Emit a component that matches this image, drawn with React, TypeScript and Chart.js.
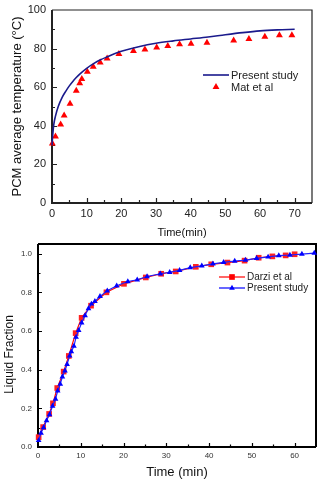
import React, { useEffect, useRef } from "react";
import { Chart, registerables } from "chart.js";
Chart.register(...registerables);

// ---------- Top chart data: PCM average temperature ----------
const presentTime = [0, 0.2, 0.5, 1, 1.8, 3, 4, 5, 6, 7, 8, 10, 12, 14, 16, 18, 20, 25, 30, 35, 40, 45, 50, 55, 60, 65, 70];
const presentTemp = [30, 35, 40.5, 45, 50, 55, 58, 60.7, 63, 65, 66.8, 69.8, 72.2, 74.2, 75.8, 77.3, 78.6, 81, 82.8, 84, 85, 86, 87.2, 88.3, 89.2, 89.7, 90];
const matTime = [0.1, 1.0, 2.5, 3.5, 5.2, 7.0, 8.0, 8.6, 10.2, 11.9, 13.9, 15.9, 19.3, 23.5, 26.8, 30.2, 33.4, 36.8, 40.1, 44.7, 52.4, 56.8, 61.4, 65.6, 69.2];
const matTemp = [30.8, 34.5, 40.7, 45.4, 51.4, 58.1, 62, 64.3, 68, 70.6, 72.8, 74.9, 77.2, 78.7, 79.5, 80.6, 81.4, 82.3, 82.5, 83, 84.2, 85, 86.2, 86.9, 86.9];

// ---------- Bottom chart data: Liquid fraction ----------
const darziTime = [0.15, 1.2, 2.6, 3.5, 4.5, 6.0, 7.2, 8.8, 10.2, 12.4, 16.0, 20.1, 25.2, 28.8, 32.2, 36.9, 40.5, 44.3, 48.3, 51.6, 54.8, 57.9, 60.0];
const darziFrac = [0.051, 0.103, 0.171, 0.226, 0.305, 0.39, 0.471, 0.589, 0.668, 0.731, 0.8, 0.844, 0.877, 0.896, 0.908, 0.932, 0.945, 0.954, 0.964, 0.979, 0.986, 0.991, 0.997];
const studyTime = [0.15, 0.7, 1.3, 2.0, 2.7, 3.4, 4.1, 4.6, 5.2, 5.7, 6.3, 6.8, 7.4, 7.8, 8.4, 8.9, 9.5, 10.2, 11.0, 11.8, 12.5, 13.3, 14.5, 16.2, 18.4, 21.0, 23.2, 25.5, 28.6, 30.8, 33.1, 35.6, 38.3, 40.9, 43.4, 46.0, 48.5, 51.1, 53.8, 56.3, 58.9, 61.7, 64.6];
const studyFrac = [0.034, 0.072, 0.1, 0.137, 0.168, 0.212, 0.248, 0.291, 0.325, 0.363, 0.394, 0.428, 0.471, 0.493, 0.522, 0.568, 0.603, 0.642, 0.68, 0.716, 0.74, 0.753, 0.779, 0.808, 0.834, 0.856, 0.865, 0.882, 0.896, 0.904, 0.914, 0.928, 0.937, 0.947, 0.955, 0.962, 0.967, 0.976, 0.983, 0.99, 0.993, 0.998, 1.003];

const FONT = "'Liberation Sans', Arial, sans-serif";

const toXY = (xs: number[], ys: number[]) => xs.map((x, i) => ({ x, y: ys[i] }));

function drawMarker(ctx: CanvasRenderingContext2D, style: string, x: number, y: number, r: number, color: string) {
  ctx.save();
  ctx.fillStyle = color;
  ctx.beginPath();
  if (style === "triangle") {
    let rad = 0;
    ctx.moveTo(x + Math.sin(rad) * r, y - Math.cos(rad) * r);
    rad += (2 * Math.PI) / 3;
    ctx.lineTo(x + Math.sin(rad) * r, y - Math.cos(rad) * r);
    rad += (2 * Math.PI) / 3;
    ctx.lineTo(x + Math.sin(rad) * r, y - Math.cos(rad) * r);
    ctx.closePath();
  } else {
    const s = r / Math.SQRT2;
    ctx.rect(x - s, y - s, 2 * s, 2 * s);
  }
  ctx.fill();
  ctx.restore();
}

function framePlugin(cfg: any) {
  return {
    id: "frameTicks",
    beforeDatasetsDraw(chart: any) {
      const { ctx, chartArea: a, scales } = chart;
      ctx.save();
      ctx.strokeStyle = cfg.color;
      ctx.lineWidth = cfg.borderWidth;
      ctx.beginPath();
      ctx.moveTo(a.left, a.top);
      ctx.lineTo(a.right, a.top);
      ctx.lineTo(a.right, a.bottom);
      ctx.stroke();
      ctx.lineWidth = cfg.axisWidth;
      ctx.beginPath();
      ctx.moveTo(a.left, a.top);
      ctx.lineTo(a.left, a.bottom);
      ctx.lineTo(a.right, a.bottom);
      ctx.stroke();
      ctx.lineWidth = 1.2;
      const xs = scales.x;
      const ys = scales.y;
      ctx.beginPath();
      for (let k = 1; ; k++) {
        const v = xs.min + (k * cfg.xStep) / 2;
        if (v >= xs.max - 1e-9) break;
        const px = Math.round(xs.getPixelForValue(v)) + 0.5;
        const len = k % 2 === 0 ? cfg.majorLen : cfg.minorLen;
        ctx.moveTo(px, a.bottom);
        ctx.lineTo(px, a.bottom - len);
      }
      for (let k = 1; ; k++) {
        const v = ys.min + (k * cfg.yStep) / 2;
        if (v >= ys.max - 1e-9) break;
        const py = Math.round(ys.getPixelForValue(v)) + 0.5;
        const len = k % 2 === 0 ? cfg.majorLen : cfg.minorLen;
        ctx.moveTo(a.left, py);
        ctx.lineTo(a.left + len, py);
      }
      ctx.stroke();
      ctx.restore();
    },
    afterDraw(chart: any) {
      const { ctx, chartArea: a } = chart;
      ctx.save();
      // axis titles
      ctx.fillStyle = "#111";
      ctx.textAlign = "center";
      ctx.textBaseline = "middle";
      ctx.font = `${cfg.xTitleSize}px ${FONT}`;
      ctx.fillText(cfg.xTitle, (a.left + a.right) / 2 + cfg.xTitleDx, cfg.xTitleY);
      ctx.save();
      ctx.translate(cfg.yTitleX, (a.top + a.bottom) / 2 + cfg.yTitleDy);
      ctx.rotate(-Math.PI / 2);
      ctx.font = `${cfg.yTitleSize}px ${FONT}`;
      ctx.fillText(cfg.yTitle, 0, 0);
      ctx.restore();
      // legend
      ctx.font = `${cfg.legendSize}px ${FONT}`;
      ctx.textAlign = "left";
      cfg.legend.forEach((it: any, i: number) => {
        const y = cfg.legendY + i * cfg.legendGap;
        if (it.line) {
          ctx.strokeStyle = it.color;
          ctx.lineWidth = it.lineWidth;
          ctx.beginPath();
          ctx.moveTo(cfg.legendX0, y);
          ctx.lineTo(cfg.legendX1, y);
          ctx.stroke();
        }
        if (it.marker) {
          drawMarker(ctx, it.marker, (cfg.legendX0 + cfg.legendX1) / 2, y, it.radius, it.color);
        }
        ctx.fillStyle = "#222";
        ctx.fillText(it.label, cfg.legendX1 + 2, y + 0.5);
      });
      ctx.restore();
    },
  };
}

const fixScale = (w: number | null, h: number | null) => (scale: any) => {
  if (w !== null) scale.width = w;
  if (h !== null) scale.height = h;
  scale.paddingTop = 0;
  scale.paddingBottom = 0;
  scale.paddingLeft = 0;
  scale.paddingRight = 0;
};

function topConfig(): any {
  return {
    type: "scatter",
    data: {
      datasets: [
        {
          label: "Present study",
          data: toXY(presentTime, presentTemp),
          showLine: true,
          borderColor: "#1a1a8c",
          borderWidth: 1.6,
          pointRadius: 0,
          cubicInterpolationMode: "monotone",
          clip: false,
        },
        {
          label: "Mat et al",
          data: toXY(matTime, matTemp),
          showLine: false,
          pointStyle: "triangle",
          pointRadius: 4,
          pointBackgroundColor: "#ff0000",
          pointBorderWidth: 0,
          borderColor: "#ff0000",
          clip: false,
        },
      ],
    },
    options: {
      animation: false,
      responsive: false,
      devicePixelRatio: 1,
      layout: { padding: { top: 10, right: 8, left: 0, bottom: 0 } },
      plugins: { legend: { display: false }, tooltip: { enabled: false } },
      scales: {
        x: {
          type: "linear",
          min: 0,
          max: 75,
          grid: { display: false, drawTicks: false },
          border: { display: false },
          ticks: { stepSize: 10, includeBounds: false, padding: 4, color: "#222", font: { family: FONT, size: 11 } },
          afterFit: fixScale(null, 37),
        },
        y: {
          type: "linear",
          min: 0,
          max: 100,
          grid: { display: false, drawTicks: false },
          border: { display: false },
          ticks: { stepSize: 20, includeBounds: false, padding: 6, color: "#222", font: { family: FONT, size: 11 } },
          afterFit: fixScale(52, null),
        },
      },
    },
    plugins: [
      framePlugin({
        color: "#222",
        borderWidth: 1.2,
        axisWidth: 2,
        majorLen: 5,
        minorLen: 3,
        xStep: 10,
        yStep: 20,
        xTitle: "Time(min)",
        xTitleSize: 11,
        xTitleY: 233,
        xTitleDx: 0,
        yTitle: "PCM average temperature (°C)",
        yTitleSize: 13,
        yTitleX: 17,
        yTitleDy: 0,
        legendSize: 11,
        legendX0: 203,
        legendX1: 229,
        legendY: 75,
        legendGap: 12,
        legend: [
          { label: "Present study", line: true, color: "#1a1a8c", lineWidth: 1.6 },
          { label: "Mat et al", marker: "triangle", color: "#ff0000", radius: 4 },
        ],
      }),
    ],
  };
}

function bottomConfig(): any {
  return {
    type: "scatter",
    data: {
      datasets: [
        {
          label: "Present study",
          data: toXY(studyTime, studyFrac),
          showLine: true,
          borderColor: "#2020ff",
          borderWidth: 1.2,
          pointStyle: "triangle",
          pointRadius: 3.3,
          pointBackgroundColor: "#0000ff",
          pointBorderWidth: 0,
          clip: false,
          order: 0,
        },
        {
          label: "Darzi et al",
          data: toXY(darziTime, darziFrac),
          showLine: true,
          borderColor: "#ff0000",
          borderWidth: 1.2,
          pointStyle: "rect",
          pointRadius: 4,
          pointBackgroundColor: "#ff2020",
          pointBorderWidth: 0,
          clip: false,
          order: 1,
        },
      ],
    },
    options: {
      animation: false,
      responsive: false,
      devicePixelRatio: 1,
      layout: { padding: { top: 2, right: 4, left: 0, bottom: 0 } },
      plugins: { legend: { display: false }, tooltip: { enabled: false } },
      scales: {
        x: {
          type: "linear",
          min: 0,
          max: 65,
          grid: { display: false, drawTicks: false },
          border: { display: false },
          ticks: { stepSize: 10, includeBounds: false, padding: 4, color: "#333", font: { family: FONT, size: 8 } },
          afterFit: fixScale(null, 33),
        },
        y: {
          type: "linear",
          min: 0,
          max: 1.05,
          grid: { display: false, drawTicks: false },
          border: { display: false },
          ticks: {
            stepSize: 0.2,
            includeBounds: false,
            padding: 6,
            color: "#333",
            font: { family: FONT, size: 8 },
            callback: (v: any) => Number(v).toFixed(1),
          },
          afterFit: fixScale(38, null),
        },
      },
    },
    plugins: [
      framePlugin({
        color: "#000",
        borderWidth: 2,
        axisWidth: 2,
        majorLen: 4,
        minorLen: 2.5,
        xStep: 10,
        yStep: 0.2,
        xTitle: "Time (min)",
        xTitleSize: 13,
        xTitleY: 232,
        xTitleDx: 0,
        yTitle: "Liquid Fraction",
        yTitleSize: 12,
        yTitleX: 10,
        yTitleDy: 9,
        legendSize: 10,
        legendX0: 219,
        legendX1: 245,
        legendY: 37,
        legendGap: 11,
        legend: [
          { label: "Darzi et al", line: true, marker: "rect", color: "#ff0000", lineWidth: 1.2, radius: 4 },
          { label: "Present study", line: true, marker: "triangle", color: "#0000ff", lineWidth: 1.2, radius: 3.3 },
        ],
      }),
    ],
  };
}

export default function App() {
  const topRef = useRef<HTMLCanvasElement>(null);
  const botRef = useRef<HTMLCanvasElement>(null);
  useEffect(() => {
    const c1 = new Chart(topRef.current as HTMLCanvasElement, topConfig());
    const c2 = new Chart(botRef.current as HTMLCanvasElement, bottomConfig());
    return () => {
      c1.destroy();
      c2.destroy();
    };
  }, []);
  return (
    <div style={{ position: "fixed", left: 0, top: 0, width: 320, height: 480, background: "#fff" }}>
      <canvas ref={topRef} width={320} height={240} style={{ position: "absolute", left: 0, top: 0, width: 320, height: 240 }} />
      <canvas ref={botRef} width={320} height={240} style={{ position: "absolute", left: 0, top: 240, width: 320, height: 240 }} />
    </div>
  );
}
